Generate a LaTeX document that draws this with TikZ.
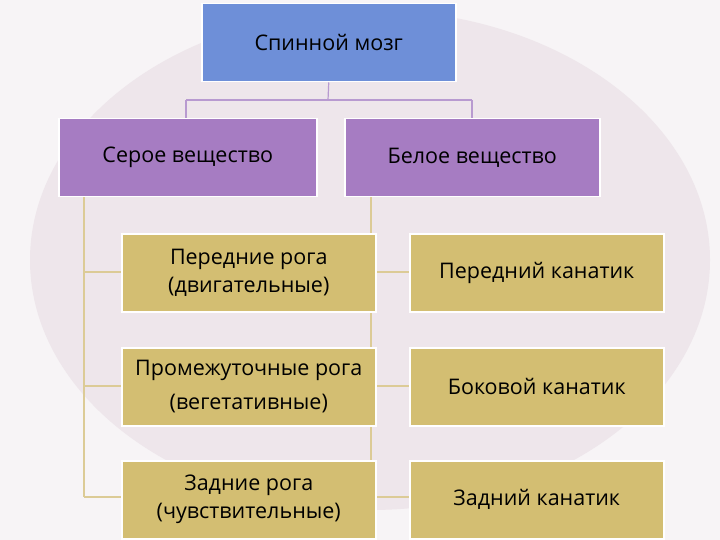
\documentclass[tikz,border=0pt]{standalone}
\usepackage{fontspec}
\setmainfont{Open Sans}
\definecolor{bg}{HTML}{F7F4F6}
\definecolor{brain}{HTML}{EEE6EB}
\definecolor{topc}{HTML}{6E8FD8}
\definecolor{purp}{HTML}{A67CC2}
\definecolor{gold}{HTML}{D3BE72}
\definecolor{lpurp}{HTML}{B89AD0}
\definecolor{lgold}{HTML}{DCCB96}
\begin{document}
\begin{tikzpicture}[x=1pt,y=-1pt,
  box/.style={draw=white,line width=1.5pt,minimum width=254pt,minimum height=78pt,anchor=north west,align=center,font=\fontsize{21.5}{28}\selectfont,inner sep=0pt},
  line/.style={line width=1.2pt}]
\useasboundingbox (0,0) rectangle (720,540);
\clip (0,0) rectangle (720,540);
\fill[bg] (0,0) rectangle (720,540);
\fill[brain] (370,260) ellipse (340 and 250);
\coordinate (ga) at (84,196);
\coordinate (wa) at (371,196);
\coordinate (g1) at (84,272); \coordinate (g2) at (84,386); \coordinate (g3) at (84,497);
\coordinate (w1) at (371,272); \coordinate (w2) at (371,386); \coordinate (w3) at (371,497);
\draw[line,lgold] (ga) -- (g3);
\draw[line,lgold] (wa) -- (w3);
\draw[line,lgold] (g1) -- (121,272);
\draw[line,lgold] (g2) -- (121,386);
\draw[line,lgold] (g3) -- (121,497);
\draw[line,lgold] (w1) -- (409,272);
\draw[line,lgold] (w2) -- (409,386);
\draw[line,lgold] (w3) -- (409,497);
\node[box,fill=topc] (top) at (201,3) {Спинной мозг};
\node[box,fill=purp,minimum width=258pt] (grey) at (58,118) {Серое вещество};
\node[box,fill=purp,minimum width=255pt] (white) at (344,118) {Белое вещество};
\node[box,fill=gold] (l1) at (121,233) {Передние рога\\(двигательные)};
\node[box,fill=gold] (l2) at (121,347) {Промежуточные рога\\[6pt](вегетативные)};
\node[box,fill=gold] (l3) at (121,460) {Задние рога\\(чувствительные)};
\node[box,fill=gold] (r1) at (409,233) {Передний канатик};
\node[box,fill=gold] (r2) at (409,347) {Боковой канатик};
\node[box,fill=gold] (r3) at (409,460) {Задний канатик};
\coordinate (j) at (328,100);
\draw[line,lpurp] (top.south) -- (j);
\draw[line,lpurp] (186,100) -- (472,100);
\draw[line,lpurp] (186,100) -- (186,118);
\draw[line,lpurp] (472,100) -- (472,118);
\end{tikzpicture}
\end{document}
